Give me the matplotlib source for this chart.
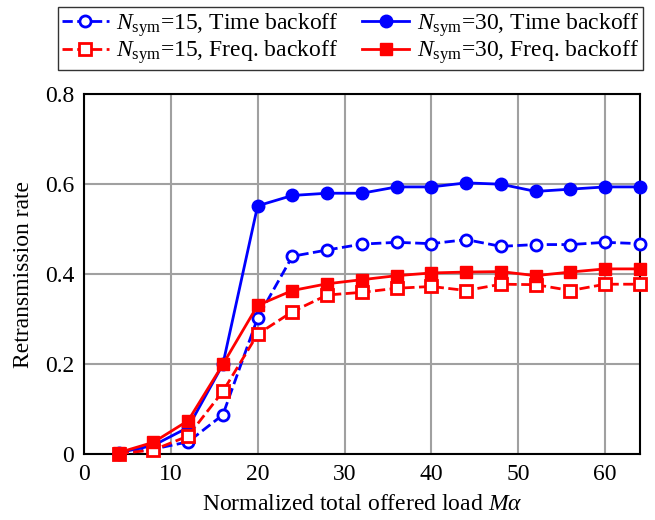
import matplotlib
matplotlib.use('Agg')
import matplotlib.pyplot as plt
import numpy as np

plt.rcParams['font.family'] = 'Liberation Serif'
plt.rcParams['mathtext.fontset'] = 'custom'
plt.rcParams['mathtext.rm'] = 'Liberation Serif'
plt.rcParams['mathtext.it'] = 'Liberation Serif:italic'

load = [4, 8, 12, 16, 20, 24, 28, 32, 36, 40, 44, 48, 52, 56, 60, 64]
time15 = [0.002, 0.012, 0.028, 0.088, 0.303, 0.44, 0.454, 0.467, 0.471, 0.468,
          0.477, 0.462, 0.466, 0.466, 0.471, 0.468]
time30 = [0.004, 0.02, 0.06, 0.2, 0.552, 0.575, 0.58, 0.58, 0.594, 0.594,
          0.603, 0.6, 0.584, 0.589, 0.594, 0.594]
freq15 = [0.002, 0.01, 0.041, 0.14, 0.267, 0.317, 0.354, 0.36, 0.369, 0.373,
          0.364, 0.378, 0.377, 0.364, 0.378, 0.378]
freq30 = [0.004, 0.027, 0.075, 0.2, 0.331, 0.364, 0.379, 0.388, 0.397, 0.403,
          0.405, 0.406, 0.397, 0.405, 0.412, 0.412]

fig = plt.figure(figsize=(6.55, 5.2), dpi=100)
ax = fig.add_axes([0.128, 0.126, 0.849, 0.693])

l1, = ax.plot(load, time15, '--o', color='blue', lw=2, ms=8, mfc='white', mew=2,
              label=r'$N_{\rm sym}$=15, Time backoff', clip_on=False, zorder=3)
l2, = ax.plot(load, time30, '-o', color='blue', lw=2, ms=9,
              label=r'$N_{\rm sym}$=30, Time backoff', clip_on=False, zorder=3)
l3, = ax.plot(load, freq15, '--s', color='red', lw=2, ms=8, mfc='white', mew=2,
              label=r'$N_{\rm sym}$=15, Freq. backoff', clip_on=False, zorder=3)
l4, = ax.plot(load, freq30, '-s', color='red', lw=2, ms=9,
              label=r'$N_{\rm sym}$=30, Freq. backoff', clip_on=False, zorder=3)

ax.set_xlim(0, 64)
ax.set_ylim(0, 0.8)
ax.set_xticks([0, 10, 20, 30, 40, 50, 60])
ax.set_yticks([0, 0.2, 0.4, 0.6, 0.8])
ax.set_yticklabels(['0', '0.2', '0.4', '0.6', '0.8'])
ax.tick_params(length=0, labelsize=17, pad=7)
ax.grid(True, color='#a0a0a0', lw=1.5)
ax.set_axisbelow(True)
for s in ax.spines.values():
    s.set_linewidth(1.5)

ax.set_xlabel(r'Normalized total offered load $M\alpha$', fontsize=17, labelpad=6)
ax.set_ylabel('Retransmission rate', fontsize=17, labelpad=8)

fig.legend(handles=[l1, l3, l2, l4], ncol=2, loc='upper center',
           bbox_to_anchor=(0.535, 0.995), fontsize=17, frameon=True, fancybox=False,
           edgecolor='black', handlelength=2.0, columnspacing=1.0,
           borderpad=0.15, labelspacing=0.0, handletextpad=0.3,
           borderaxespad=0.2)

fig.savefig('out.png', dpi=100)
